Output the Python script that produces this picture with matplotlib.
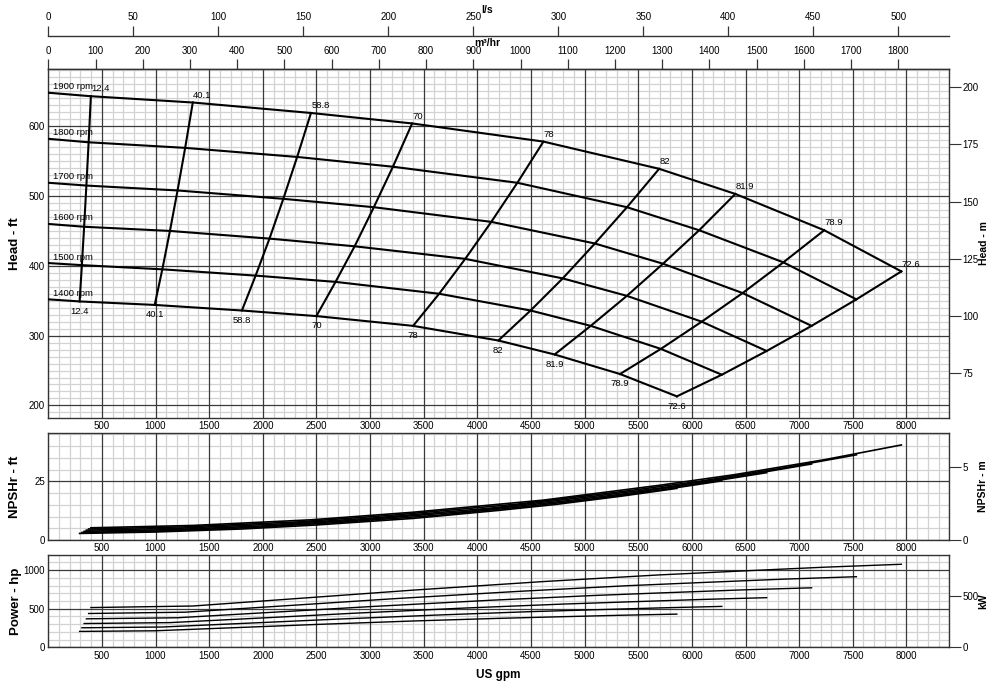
import matplotlib
matplotlib.use("Agg")
import matplotlib.pyplot as plt
from matplotlib.ticker import MultipleLocator

plt.rcParams['font.family'] = ['Liberation Sans', 'DejaVu Sans']

# ---------------- data ----------------
speed_labels = ['1900 rpm', '1800 rpm', '1700 rpm', '1600 rpm', '1500 rpm', '1400 rpm']
eff_labels = ['12.4', '40.1', '58.8', '70', '78', '82', '81.9', '78.9', '72.6']

shutoff_head = [648, 582, 519, 460, 404, 352]   # ft at 0 gpm

flow_1900 = [397, 1347, 2449, 3392, 4616, 5695, 6405, 7234, 7953]
flow_1800 = [376, 1276, 2320, 3213, 4373, 5395, 6068, 6853, 7534]
flow_1700 = [355, 1205, 2191, 3035, 4130, 5096, 5731, 6473, 7116]
flow_1600 = [334, 1134, 2062, 2856, 3887, 4796, 5394, 6092, 6697]
flow_1500 = [313, 1063, 1933, 2678, 3644, 4496, 5057, 5711, 6279]
flow_1400 = [292, 992, 1805, 2499, 3401, 4196, 4720, 5330, 5860]

head_1900 = [643, 634, 619, 604, 578, 539, 503, 451, 392]
head_1800 = [577, 569, 556, 542, 519, 484, 451, 405, 352]
head_1700 = [515, 508, 496, 484, 463, 432, 403, 361, 314]
head_1600 = [456, 450, 439, 428, 410, 382, 357, 320, 278]
head_1500 = [401, 395, 386, 377, 360, 336, 314, 281, 244]
head_1400 = [349, 344, 336, 328, 314, 293, 273, 245, 213]

npsh_1900 = [5.2, 6.2, 8.6, 11.8, 17.0, 23.3, 27.9, 34.2, 40.5]
npsh_1800 = [4.7, 5.6, 7.7, 10.6, 15.3, 20.9, 25.0, 30.7, 36.3]
npsh_1700 = [4.2, 5.0, 6.9, 9.4, 13.6, 18.7, 22.3, 27.4, 32.4]
npsh_1600 = [3.7, 4.4, 6.1, 8.4, 12.1, 16.5, 19.8, 24.3, 28.7]
npsh_1500 = [3.2, 3.9, 5.4, 7.4, 10.6, 14.5, 17.4, 21.3, 25.2]
npsh_1400 = [2.8, 3.4, 4.7, 6.4, 9.2, 12.6, 15.1, 18.6, 22.0]

power_1900 = [515, 535, 645, 740, 852, 938, 985, 1038, 1076]
power_1800 = [438, 455, 548, 629, 724, 798, 838, 883, 915]
power_1700 = [369, 383, 462, 530, 610, 672, 706, 744, 771]
power_1600 = [308, 320, 385, 442, 509, 560, 588, 620, 643]
power_1500 = [253, 263, 317, 364, 419, 462, 485, 511, 530]
power_1400 = [206, 214, 258, 296, 341, 375, 394, 415, 430]

gpm_ticks = [500, 1000, 1500, 2000, 2500, 3000, 3500, 4000,
             4500, 5000, 5500, 6000, 6500, 7000, 7500, 8000]
m3h_ticks = [0, 100, 200, 300, 400, 500, 600, 700, 800, 900,
             1000, 1100, 1200, 1300, 1400, 1500, 1600, 1700, 1800]
ls_ticks = [0, 50, 100, 150, 200, 250, 300, 350, 400, 450, 500]
head_ft_ticks = [200, 300, 400, 500, 600]
head_m_ticks = [75, 100, 125, 150, 175, 200]
npsh_ft_ticks = [0, 25]
npsh_m_ticks = [0, 5]
power_hp_ticks = [0, 500, 1000]
power_kw_ticks = [0, 500]

flows = [flow_1900, flow_1800, flow_1700, flow_1600, flow_1500, flow_1400]
heads = [head_1900, head_1800, head_1700, head_1600, head_1500, head_1400]
npshs = [npsh_1900, npsh_1800, npsh_1700, npsh_1600, npsh_1500, npsh_1400]
powers = [power_1900, power_1800, power_1700, power_1600, power_1500, power_1400]

GPM_PER_M3H = 4.40287
GPM_PER_LS = 15.8503
FT_TO_M = 0.3048
HP_TO_KW = 0.7457

# ---------------- layout ----------------
fig = plt.figure(figsize=(10, 7), dpi=100)
L, W = 0.0483, 0.901
ax_h = fig.add_axes([L, 1 - 418 / 700, W, (418 - 69) / 700])
ax_n = fig.add_axes([L, 1 - 540 / 700, W, (540 - 433) / 700])
ax_p = fig.add_axes([L, 1 - 647.3 / 700, W, (647.3 - 554.7) / 700])

MINOR_C = '#d2d2d2'
MAJOR_C = '#3a3a3a'
SPINE_C = '#333333'
TFS = 7

def style(ax, ylim, yticks, yminor):
    ax.set_xlim(0, 8400)
    ax.set_ylim(*ylim)
    ax.set_xticks(gpm_ticks)
    ax.set_yticks(yticks)
    ax.xaxis.set_minor_locator(MultipleLocator(100))
    ax.yaxis.set_minor_locator(MultipleLocator(yminor))
    ax.set_axisbelow(True)
    ax.grid(which='minor', color=MINOR_C, lw=0.9)
    ax.grid(which='major', visible=False)
    # major grid drawn above the minor grid so it stays continuous
    for x in gpm_ticks:
        ax.axvline(x, color=MAJOR_C, lw=0.9, zorder=1)
    for y in yticks:
        ax.axhline(y, color=MAJOR_C, lw=0.9, zorder=1)
    ax.tick_params(which='both', length=0, labelsize=TFS, pad=2.5)
    for s in ax.spines.values():
        s.set_color(SPINE_C)
        s.set_linewidth(1.0)
        s.set_zorder(2)

def right_axis(ax, ylim, yticks):
    t = ax.twinx()
    t.set_ylim(*ylim)
    t.set_yticks(yticks)
    t.tick_params(axis='y', length=8.6, width=0.8, pad=1, labelsize=TFS, color=SPINE_C)
    for s in t.spines.values():
        s.set_visible(False)
    return t

style(ax_h, (182, 682), head_ft_ticks, 10)
style(ax_n, (0, 45.6), npsh_ft_ticks, 5)
style(ax_p, (0, 1200), power_hp_ticks, 100)

right_axis(ax_h, (182 * FT_TO_M, 682 * FT_TO_M), head_m_ticks)
right_axis(ax_n, (0, 7.36), npsh_m_ticks)
right_axis(ax_p, (0, 1200 * HP_TO_KW), power_kw_ticks)

# top secondary axes (m3/hr and l/s)
sec1 = ax_h.secondary_xaxis('top', functions=(lambda q: q / GPM_PER_M3H,
                                              lambda m: m * GPM_PER_M3H))
sec1.set_xticks(m3h_ticks)
sec1.tick_params(length=7, width=0.9, pad=2, labelsize=TFS, color=SPINE_C)
sec2 = ax_h.secondary_xaxis(1 + 33 / 349, functions=(lambda q: q / GPM_PER_LS,
                                                     lambda v: v * GPM_PER_LS))
sec2.set_xticks(ls_ticks)
sec2.tick_params(length=7, width=0.9, pad=3, labelsize=TFS, color=SPINE_C)
for sec in (sec1, sec2):
    for s in sec.spines.values():
        s.set_color(SPINE_C)
        s.set_linewidth(1.0)

fig.text(0.487, 1 - 10 / 700, 'l/s', ha='center', va='center', fontsize=7.5, fontweight='bold')
fig.text(0.487, 1 - 42.5 / 700, 'm³/hr', ha='center', va='center', fontsize=7.5, fontweight='bold')

# ---------------- head curves ----------------
for i, (q, h) in enumerate(zip(flows, heads)):
    ax_h.plot([0] + q, [shutoff_head[i]] + h, color='black', lw=1.5, zorder=3)
    ax_h.text(40, shutoff_head[i] + 5, speed_labels[i], fontsize=6.8,
              ha='left', va='baseline', zorder=4)

# iso-efficiency lines
for j in range(len(eff_labels)):
    xs = [q[j] for q in flows]
    ys = [h[j] for h in heads]
    ax_h.plot(xs, ys, color='black', lw=1.5, zorder=3)
    ax_h.text(flow_1900[j] + 3, head_1900[j] + 7, eff_labels[j], fontsize=6.8,
              ha='left', va='baseline', zorder=4)
    ax_h.text(flow_1400[j], head_1400[j] - 7.5, eff_labels[j], fontsize=6.8,
              ha='center', va='top', zorder=4)

# ---------------- NPSH ----------------
for q, n in zip(flows, npshs):
    ax_n.plot(q, n, color='black', lw=1.2, zorder=3)

# ---------------- power ----------------
for q, p in zip(flows, powers):
    ax_p.plot(q, p, color='black', lw=1.0, zorder=3)

# ---------------- axis titles ----------------
fig.text(0.015, 1 - 243.5 / 700, 'Head - ft', rotation=90, ha='center', va='center',
         fontsize=9.5, fontweight='bold')
fig.text(0.015, 1 - 486.5 / 700, 'NPSHr - ft', rotation=90, ha='center', va='center',
         fontsize=9.5, fontweight='bold')
fig.text(0.0155, 1 - 601 / 700, 'Power - hp', rotation=90, ha='center', va='center',
         fontsize=9.5, fontweight='bold')
fig.text(0.984, 1 - 243.5 / 700, 'Head - m', rotation=90, ha='center', va='center',
         fontsize=7.5, fontweight='bold')
fig.text(0.983, 1 - 486.5 / 700, 'NPSHr - m', rotation=90, ha='center', va='center',
         fontsize=7.5, fontweight='bold')
fig.text(0.983, 1 - 601 / 700, 'kW', rotation=90, ha='center', va='center',
         fontsize=7.5, fontweight='bold')
fig.text(0.498, 1 - 675 / 700, 'US gpm', ha='center', va='center',
         fontsize=8.5, fontweight='bold')

fig.savefig('out.png', dpi=100)
